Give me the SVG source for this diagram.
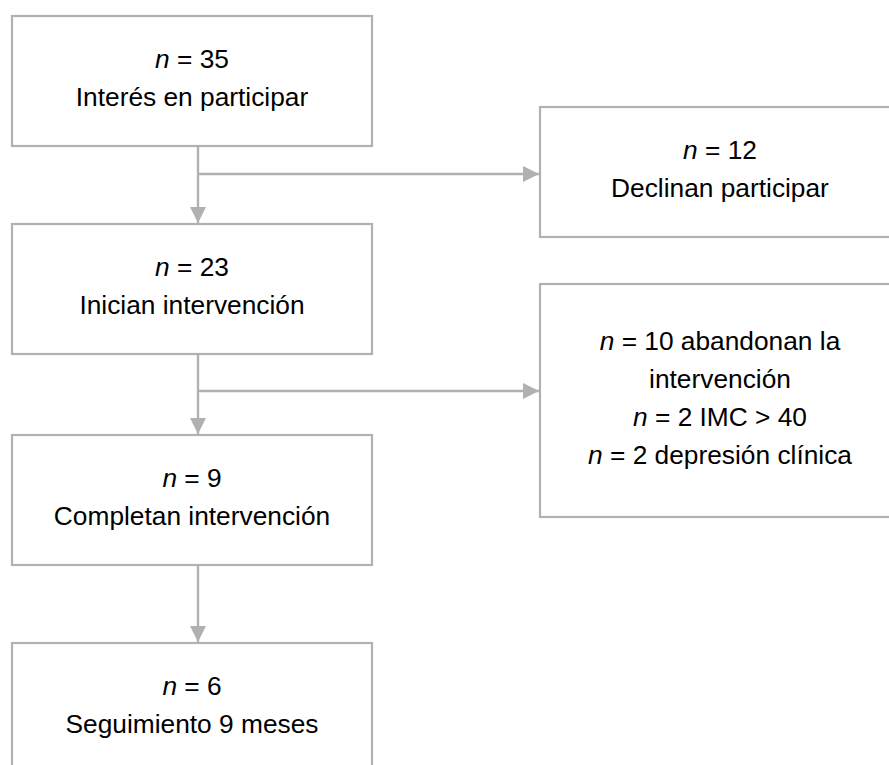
<svg xmlns="http://www.w3.org/2000/svg" width="889" height="765" viewBox="0 0 889 765">
<style>
.box{fill:#ffffff;stroke:#b2b0b0;stroke-width:2.2}
.ln{fill:none;stroke:#b2b0b0;stroke-width:2.4}
text{font-family:"Liberation Sans",Arial,sans-serif;font-size:26.3px;fill:#000;text-anchor:middle}
.i{font-style:italic}
</style>
<defs>
<marker id="ah" markerUnits="userSpaceOnUse" markerWidth="18" markerHeight="18" viewBox="0 0 18 18" refX="17" refY="9" orient="auto">
<path d="M1,1 L17,9 L1,17 Z" fill="#b2b0b0"/>
</marker>
</defs>
<rect width="889" height="765" fill="#ffffff"/>
<g id="connectors">
<path class="ln" d="M198,147 V223" marker-end="url(#ah)"/>
<path class="ln" d="M198,174 H539" marker-end="url(#ah)"/>
<path class="ln" d="M198,355 V434" marker-end="url(#ah)"/>
<path class="ln" d="M198,391 H539" marker-end="url(#ah)"/>
<path class="ln" d="M198,566 V642" marker-end="url(#ah)"/>
</g>
<g id="n1">
<rect class="box" x="12" y="16" width="360" height="130"/>
<text x="192" y="68"><tspan class="i">n</tspan> = 35</text>
<text x="192" y="106">Interés en participar</text>
</g>
<g id="n2">
<rect class="box" x="12" y="224" width="360" height="130"/>
<text x="192" y="276"><tspan class="i">n</tspan> = 23</text>
<text x="192" y="314">Inician intervención</text>
</g>
<g id="n3">
<rect class="box" x="12" y="435" width="360" height="130"/>
<text x="192" y="487"><tspan class="i">n</tspan> = 9</text>
<text x="192" y="525">Completan intervención</text>
</g>
<g id="n4">
<rect class="box" x="12" y="643" width="360" height="130"/>
<text x="192" y="695"><tspan class="i">n</tspan> = 6</text>
<text x="192" y="733">Seguimiento 9 meses</text>
</g>
<g id="r1">
<rect class="box" x="540" y="107" width="360" height="130"/>
<text x="720" y="159"><tspan class="i">n</tspan> = 12</text>
<text x="720" y="197">Declinan participar</text>
</g>
<g id="r2">
<rect class="box" x="540" y="284" width="360" height="233"/>
<text x="720" y="350"><tspan class="i">n</tspan> = 10 abandonan la</text>
<text x="720" y="388">intervención</text>
<text x="720" y="426"><tspan class="i">n</tspan> = 2 IMC &gt; 40</text>
<text x="720" y="464"><tspan class="i">n</tspan> = 2 depresión clínica</text>
</g>
</svg>
